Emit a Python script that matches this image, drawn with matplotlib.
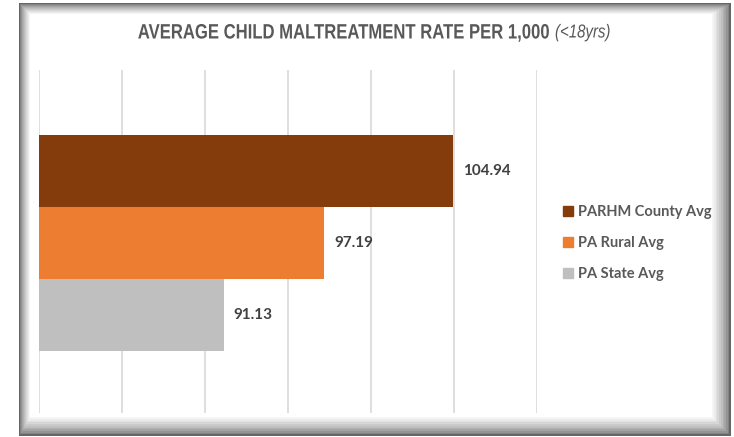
import matplotlib.pyplot as plt
from matplotlib.patches import Rectangle
from matplotlib.lines import Line2D
from matplotlib.patheffects import AbstractPathEffect
from matplotlib.transforms import Affine2D

# data (bottom to top)
categories = ["PA State Avg", "PA Rural Avg", "PARHM County Avg"]
rates = [91.13, 97.19, 104.94]
colors = ["#bfbfbf", "#ed7d31", "#843c0c"]


class Narrow(AbstractPathEffect):
    """squeeze text horizontally about a fixed x (display px)"""

    def __init__(self, cx, sx):
        super().__init__()
        self.cx = cx
        self.sx = sx

    def draw_path(self, renderer, gc, tpath, affine, rgbFace=None):
        squeeze = Affine2D().translate(-self.cx, 0).scale(self.sx, 1).translate(self.cx, 0)
        renderer.draw_path(gc, tpath, affine + squeeze, rgbFace)


W, H = 734, 437
fig = plt.figure(figsize=(W / 100, H / 100), dpi=100)
fig.patch.set_facecolor("white")

# shadowed panel border
x0, y0, x1, y1 = 19, 3, 731, 436
steps = 12
for i in range(steps):
    g = 0.40 + 0.60 * (i / (steps - 1)) ** 0.7
    l, t = x0 + i, y0 + i
    r, b = x1 - 1.7 * i, y1 - 1.7 * i
    fig.patches.append(Rectangle((l, H - b), r - l, b - t, transform=None,
                                 facecolor=(g, g, g), edgecolor="none", zorder=-10 + i * 0.01))

ax = fig.add_axes([39 / W, 1 - 413 / H, (537 - 39) / W, 343 / H])
ax.set_facecolor("none")
ypos = list(range(len(categories)))
ax.barh(ypos, rates, height=1.0, color=colors, zorder=2)
ax.set_xlim(80, 110)
ax.set_ylim(-1.36, 3.40)
ax.set_xticks(range(80, 111, 5))
ax.xaxis.grid(True, color="#d9d9d9", linewidth=1.2, zorder=0)
ax.tick_params(left=False, bottom=False, labelleft=False, labelbottom=False)
for s in ax.spines.values():
    s.set_visible(False)

for y, v in zip(ypos, rates):
    ax.annotate(f"{v:.2f}", (v, y), xytext=(7, 0), textcoords="offset points",
                va="center", ha="left", fontsize=11, fontweight="bold",
                color="#404040", family="Lato")

fig.text(550 / W, 1 - 33 / H, "AVERAGE CHILD MALTREATMENT RATE PER 1,000",
         ha="right", va="center", fontsize=15, fontweight="bold", color="#595959",
         family="Liberation Sans", path_effects=[Narrow(550, 0.80)])
fig.text(555 / W, 1 - 33 / H, "(<18yrs)", ha="left", va="center", fontsize=13.5,
         style="italic", color="#595959", family="Liberation Sans",
         path_effects=[Narrow(555, 0.80)])

handles = [Line2D([], [], marker="s", linestyle="none", markersize=6.5, color=c)
           for c in colors[::-1]]
fig.legend(handles, categories[::-1], loc="center left", bbox_to_anchor=(548 / W, 1 - 243 / H),
           frameon=False, handletextpad=0.15, labelspacing=1.15, handlelength=1.0,
           prop={"family": "Lato", "weight": "bold", "size": 10.5}, labelcolor="#595959")

fig.savefig("out.png", dpi=100)
